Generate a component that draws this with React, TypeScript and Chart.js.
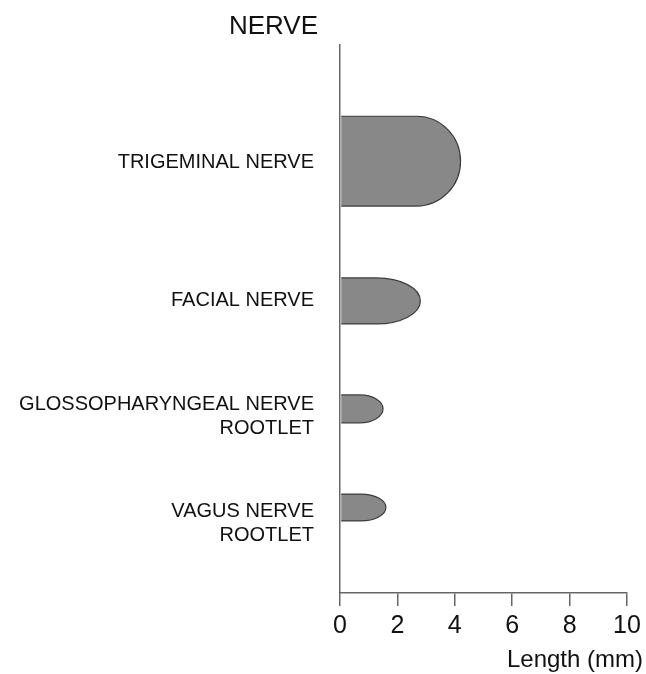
import React, { useEffect, useRef } from "react";
import { Chart, registerables } from "chart.js";

Chart.register(...registerables);

// ---- data ----
const nerveLabels: string[][] = [
  ["TRIGEMINAL NERVE"],
  ["FACIAL NERVE"],
  ["GLOSSOPHARYNGEAL NERVE", "ROOTLET"],
  ["VAGUS NERVE", "ROOTLET"],
];
const lengthsMm = [4.2, 2.8, 1.5, 1.6];
const rowPositions = [21.2, 46.7, 66.4, 84.4];
const labelPositions = [21.4, 46.7, 67.8, 87.3];
const rowThickness = [16.4, 8.4, 5.1, 4.9];
const xTickValues = [0, 2, 4, 6, 8, 10];
const yAxisHeading = "NERVE";
const xAxisTitle = "Length (mm)";

const FONT = "'Liberation Sans', Arial, Helvetica, sans-serif";

const bulletPlugin = {
  id: "bulletBars",
  afterDatasetsDraw(chart: any) {
    const meta = chart.getDatasetMeta(0);
    const ys = chart.scales.y;
    const ctx = chart.ctx;
    meta.data.forEach((el: any, i: number) => {
      const { x, y, base } = el.getProps(["x", "y", "base"], true);
      const ry = Math.abs(
        ys.getPixelForValue(rowPositions[i] + rowThickness[i] / 2) - ys.getPixelForValue(rowPositions[i])
      );
      const len = x - base;
      const rx = Math.min(len * 0.55, 44);
      ctx.save();
      ctx.beginPath();
      ctx.moveTo(base + 0.5, y - ry);
      ctx.lineTo(x - rx, y - ry);
      ctx.ellipse(x - rx, y, rx, ry, 0, -Math.PI / 2, Math.PI / 2);
      ctx.lineTo(base + 0.5, y + ry);
      ctx.fillStyle = "#888888";
      ctx.fill();
      ctx.strokeStyle = "#3c3c3c";
      ctx.lineWidth = 1.2;
      ctx.stroke();
      ctx.restore();
    });
  },
  afterDraw(chart: any) {
    const ctx = chart.ctx;
    const area = chart.chartArea;
    ctx.save();
    ctx.fillStyle = "#111";
    ctx.textAlign = "right";
    ctx.textBaseline = "middle";
    ctx.font = `26px ${FONT}`;
    ctx.fillText(yAxisHeading, area.left - 22, 27);
    ctx.font = `24px ${FONT}`;
    ctx.fillText(xAxisTitle, area.right + 16, 660);
    ctx.restore();
  },
};

export default function App() {
  const ref = useRef<HTMLCanvasElement | null>(null);
  useEffect(() => {
    document.body.style.margin = "0";
    if (!ref.current) return;
    const chart = new Chart(ref.current, {
      type: "bar",
      data: {
        datasets: [
          {
            label: "Length",
            data: lengthsMm.map((v, i) => ({ x: v, y: rowPositions[i] })),
            backgroundColor: "rgba(0,0,0,0)",
            borderWidth: 0,
          },
        ],
      },
      options: {
        indexAxis: "y",
        animation: false,
        responsive: true,
        maintainAspectRatio: false,
        layout: { padding: { top: 45, right: 19, left: 0, bottom: 0 } },
        plugins: { legend: { display: false }, tooltip: { enabled: false }, title: { display: false } },
        scales: {
          x: {
            type: "linear",
            min: 0,
            max: 10,
            afterBuildTicks: (s: any) => {
              s.ticks = xTickValues.map((v) => ({ value: v }));
            },
            afterFit: (s: any) => {
              s.height = 81;
            },
            grid: { display: true, drawOnChartArea: false, drawTicks: true, tickLength: 13, color: "#666", lineWidth: 1.5 },
            border: { display: true, color: "#666", width: 1.5 },
            ticks: { color: "#111", font: { family: FONT, size: 25 }, padding: 5, maxRotation: 0 },
            title: { display: false },
          },
          y: {
            type: "linear",
            min: 0,
            max: 100,
            reverse: true,
            offset: false,
            afterBuildTicks: (s: any) => {
              s.ticks = labelPositions.map((v) => ({ value: v }));
            },
            afterFit: (s: any) => {
              s.width = 340;
              s.paddingTop = 0;
              s.paddingBottom = 0;
            },
            grid: { display: false, drawTicks: false },
            border: { display: true, color: "#666", width: 1.5 },
            ticks: {
              color: "#111",
              padding: 26,
              font: { family: FONT, size: 20, lineHeight: 1.2 },
              callback: (_v: any, i: number) => nerveLabels[i],
            },
          },
        },
      },
      plugins: [bulletPlugin],
    });
    return () => chart.destroy();
  }, []);
  return (
    <div style={{ width: 646, height: 674, position: "relative" }}>
      <canvas ref={ref} />
    </div>
  );
}
